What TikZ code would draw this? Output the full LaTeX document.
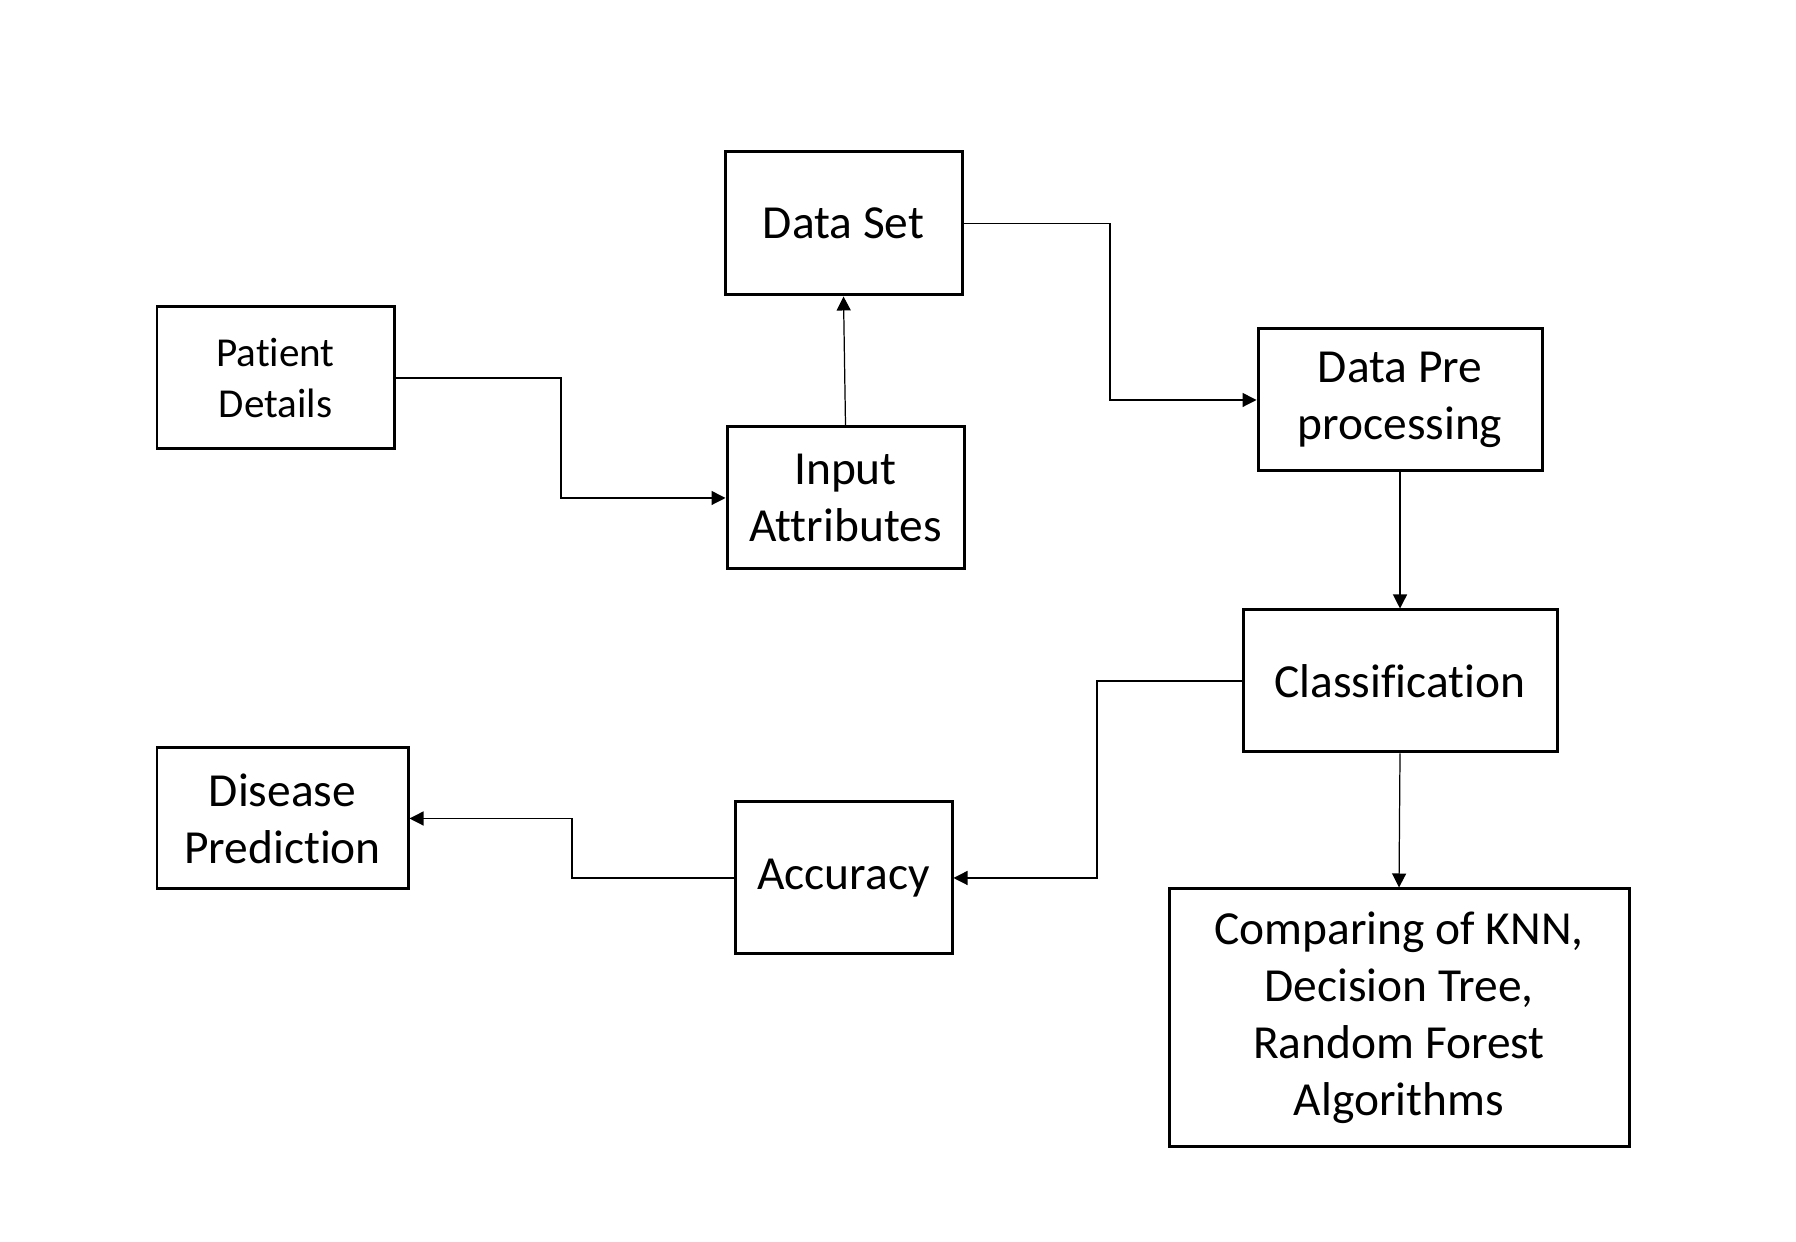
\documentclass[tikz,border=0pt]{standalone}
\usepackage{fontspec}
\setmainfont{Carlito}[Ligatures=NoCommon]
\usetikzlibrary{arrows.meta}

\begin{document}
\begin{tikzpicture}[
		block/.style={draw, line width=0.85pt, align=center, inner sep=0pt,
			font=\fontsize{13.5}{16.2}\selectfont},
		conn/.style={line width=0.35pt, -{Triangle[length=1.4mm, width=1.4mm]}}
	]
		%%%%% START %%%%%
		\useasboundingbox (0, 0) rectangle (17.96, 12.42);
		
		\node[block, minimum width=2.37cm, minimum height=1.43cm] (dataset) at (8.435, 10.185) {Data Set};
		\node[block, minimum width=2.37cm, minimum height=1.42cm,
			font=\fontsize{11.7}{14.6}\selectfont] (patient) at (2.755, 8.64) {Patient\\Details};
		\node[block, minimum width=2.37cm, minimum height=1.42cm] (input) at (8.455, 7.44) {Input\\Attributes};
		\node[block, minimum width=2.84cm, minimum height=1.42cm] (prepro) at (14.00, 8.42) {Data Pre\\processing};
		\node[block, minimum width=3.14cm, minimum height=1.42cm] (classif) at (14.00, 5.61) {Classification};
		\node[block, minimum width=2.17cm, minimum height=1.52cm] (accuracy) at (8.435, 3.64) {Accuracy};
		\node[block, minimum width=2.51cm, minimum height=1.41cm] (disease) at (2.825, 4.235) {Disease\\Prediction};
		\node[block, minimum width=4.60cm, minimum height=2.58cm] (compare) at (13.99, 2.24)
			{Comparing of KNN,\\Decision Tree,\\Random Forest\\Algorithms};
		
		\coordinate (bendA) at (5.61, 8);
		\coordinate (bendB) at (11.10, 9);
		\coordinate (bendC) at (10.97, 4.5);
		\coordinate (bendD) at (5.72, 3.9);
		
		\draw[conn] (patient.east) -| (bendA) |- (input.west);
		\draw[conn] (input.north) -- (dataset.south);
		\draw[conn] (dataset.east) -| (bendB) |- (prepro.west);
		\draw[conn] (prepro.south) -- (classif.north);
		\draw[conn] (classif.south) -- (compare.north);
		\draw[conn] (classif.west) -| (bendC) |- (accuracy.east);
		\draw[conn] (accuracy.west) -| (bendD) |- (disease.east);
		%%%%% END %%%%%
	\end{tikzpicture}
\end{document}
